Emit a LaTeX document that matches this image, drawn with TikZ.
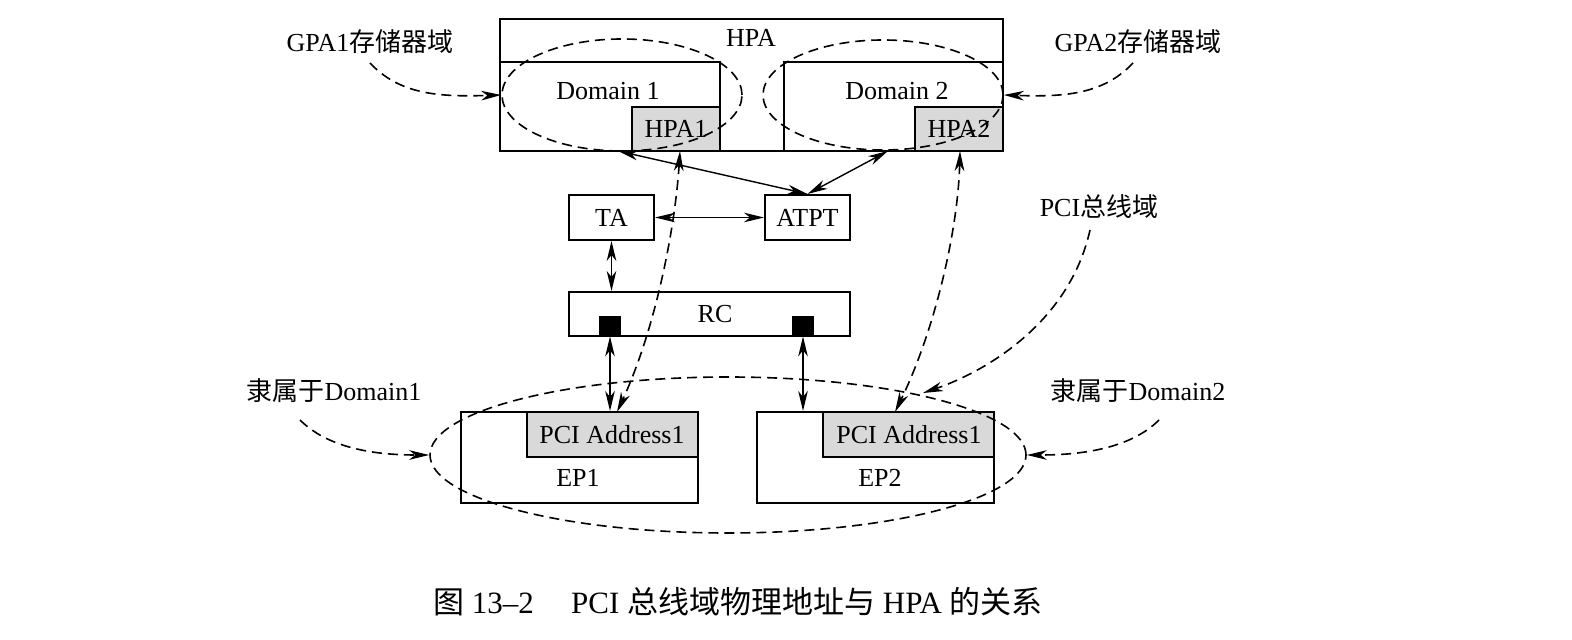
\documentclass[tikz,border=0pt]{standalone}
\usepackage{fontspec}
\setmainfont{Liberation Serif}
\newfontfamily\cjk{Noto Sans CJK SC}
\usetikzlibrary{arrows.meta,fit,shapes.geometric}
\definecolor{boxgray}{RGB}{217,217,217}
\begin{document}
\begin{tikzpicture}[x=0.5pt,y=-0.5pt,
  box/.style={draw, line width=1pt, inner sep=0pt},
  thinbox/.style={draw, line width=0.75pt, inner sep=0pt},
  graybox/.style={draw, line width=0.75pt, inner sep=0pt, fill=boxgray},
  lbl/.style={font=\fontsize{13}{15}\selectfont, inner sep=0pt},
  dsh/.style={dash pattern=on 5pt off 3pt, line width=0.8pt},
  ell/.style={ellipse, draw, dash pattern=on 5pt off 3pt, line width=0.8pt, inner sep=0pt},
  darr/.style={line width=0.7pt, {Stealth[length=10pt,width=4.8pt,inset=3pt]}-{Stealth[length=10pt,width=4.8pt,inset=3pt]}},
  ddarr/.style={dsh, {Stealth[length=10pt,width=4.8pt,inset=3pt]}-{Stealth[length=10pt,width=4.8pt,inset=3pt]}},
  dsarr/.style={dsh, -{Stealth[length=10pt,width=4.8pt,inset=3pt]}}]
\fill[white] (0,0) rectangle (1572,640);
\useasboundingbox (0,0) rectangle (1572,640);

% HPA block
\node[graybox, fit={(632,107) (720,151)}] (hpa1) {};
\node[graybox, fit={(915,107) (1003,151)}] (hpa2) {};
\node[thinbox, fit={(500,62) (720,151)}] (dom1) {};
\node[thinbox, fit={(784,62) (1003,151)}] (dom2) {};
\node[box, line width=1.2pt, fit={(500,19) (1003,151)}] (hpa) {};
\node[lbl] (hpat) at (751,38) {HPA};
\node[lbl] (dom1t) at (608,91) {Domain 1};
\node[lbl] (dom2t) at (897,91) {Domain 2};
\node[lbl] (hpa1t) at (676,129) {HPA1};
\node[lbl] (hpa2t) at (959,129) {HPA2};

% TA, ATPT, RC
\node[box, fit={(569,195) (654,240)}] (ta) {};
\node[lbl] (tat) at (ta.center) {TA};
\node[box, fit={(765,195) (850,240)}] (atpt) {};
\node[lbl] (atptt) at (atpt.center) {ATPT};
\node[box, fit={(569,292) (850,336)}] (rc) {};
\node[lbl] (rct) at (715,314) {RC};
\node[fill=black, inner sep=0pt, fit={(599,316) (621,336)}] (sq1) {};
\node[fill=black, inner sep=0pt, fit={(792,316) (814,336)}] (sq2) {};

% EP boxes
\node[box, fit={(461,412) (698,503)}] (ep1) {};
\node[graybox, fit={(527,412) (698,457)}] (pa1) {};
\node[lbl] (pa1t) at (612,435) {PCI Address1};
\node[lbl] (ep1t) at (578,478) {EP1};
\node[box, fit={(757,412) (994,503)}] (ep2) {};
\node[graybox, fit={(823,412) (994,457)}] (pa2) {};
\node[lbl] (pa2t) at (909,435) {PCI Address1};
\node[lbl] (ep2t) at (880,478) {EP2};

% dashed ellipses
\node[ell, minimum width=120pt, minimum height=56pt] (e1) at (622,95) {};
\node[ell, minimum width=120pt, minimum height=55pt] (e2) at (883,95) {};
\node[ell, minimum width=298pt, minimum height=78pt] (e3) at (728,455) {};

% solid arrows
\coordinate (h1b) at (618,151);
\coordinate (h2b) at (888,151);
\draw[darr] (h1b) -- (atpt.north);
\draw[darr] (h2b) -- (atpt.north);
\draw[darr] (ta.east) -- (atpt.west);
\draw[darr] (ta.south) -- (ta.south |- rc.north);
\draw[darr] (sq1.south) -- (sq1.south |- ep1.north);
\draw[darr] (sq2.south) -- (sq2.south |- ep2.north);

% dashed mapping arrows
\coordinate (m1a) at (680,151);
\coordinate (m1b) at (617,412);
\coordinate (m2a) at (960,151);
\coordinate (m2b) at (895,412);
\draw[ddarr] (m1a) .. controls (675,230) and (655,330) .. (m1b);
\draw[ddarr] (m2a) .. controls (958,230) and (935,330) .. (m2b);

% labels
\node[lbl] (g1) at (370,42) {GPA1{\cjk 存储器域}};
\node[lbl] (g2) at (1138,42) {GPA2{\cjk 存储器域}};
\node[lbl] (pcib) at (1099,207) {PCI{\cjk 总线域}};
\node[lbl] (d1) at (334,391) {{\cjk 隶属于}Domain1};
\node[lbl] (d2) at (1138,391) {{\cjk 隶属于}Domain2};

\coordinate (g1s) at (370,63);
\coordinate (g2s) at (1133,63);
\coordinate (pcis) at (1090,230);
\coordinate (pcie) at (923,393);
\coordinate (d1s) at (300,420);
\coordinate (d2s) at (1159,420);
\draw[dsarr] (g1s) .. controls (400,95) and (440,97) .. (e1.west);
\draw[dsarr] (g2s) .. controls (1103,95) and (1063,97) .. (e2.east);
\draw[dsarr] (pcis) .. controls (1070,320) and (990,370) .. (pcie);
\draw[dsarr] (d1s) .. controls (330,450) and (380,455) .. (e3.west);
\draw[dsarr] (d2s) .. controls (1129,450) and (1077,455) .. (e3.east);

% caption
\node[font=\fontsize{15.5}{17}\selectfont, inner sep=0pt] (cap) at (738,602)
  {{\cjk 图} 13\textendash 2\hspace{1.2em}PCI {\cjk 总线域物理地址与} HPA {\cjk 的关系}};
\end{tikzpicture}
\end{document}
